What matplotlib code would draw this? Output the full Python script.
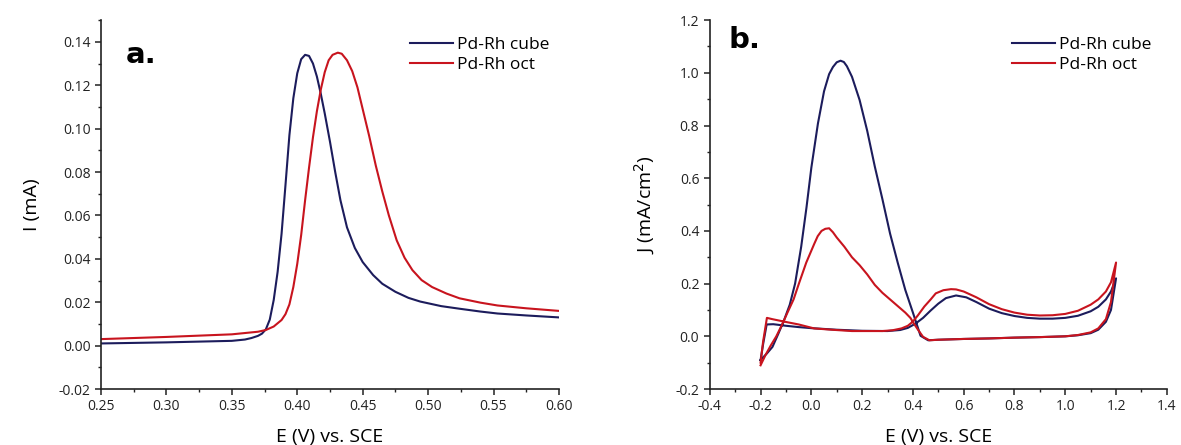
import matplotlib
matplotlib.use("Agg")
import matplotlib.pyplot as plt
from matplotlib.ticker import MultipleLocator, FormatStrFormatter

# ---------------- Panel a: linear sweep ----------------
E_a_cube = [0.25, 0.30, 0.35, 0.36, 0.365, 0.37, 0.373, 0.376, 0.379, 0.382, 0.385, 0.388,
            0.391, 0.394, 0.397, 0.400, 0.403, 0.406, 0.409, 0.412, 0.415, 0.418, 0.421,
            0.425, 0.429, 0.433, 0.438, 0.444, 0.450, 0.458, 0.465, 0.475, 0.485, 0.494,
            0.510, 0.524, 0.540, 0.553, 0.575, 0.600]
I_a_cube = [0.001, 0.0015, 0.0022, 0.0028, 0.0035, 0.0045, 0.0055, 0.0075, 0.012, 0.021, 0.034, 0.0515,
            0.074, 0.097, 0.114, 0.1255, 0.132, 0.134, 0.1335, 0.130, 0.124, 0.116, 0.107,
            0.094, 0.080, 0.067, 0.0545, 0.0450, 0.0385, 0.0325, 0.0285, 0.0248, 0.0220, 0.0203,
            0.0182, 0.0170, 0.0157, 0.0148, 0.0139, 0.013]

E_a_oct = [0.25, 0.30, 0.35, 0.36, 0.37, 0.376, 0.382, 0.388, 0.391, 0.394, 0.397, 0.400,
           0.403, 0.406, 0.409, 0.412, 0.415, 0.418, 0.421, 0.424, 0.427, 0.431, 0.434,
           0.438, 0.442, 0.446, 0.450, 0.455, 0.460, 0.465, 0.470, 0.476, 0.482, 0.488,
           0.495, 0.503, 0.514, 0.524, 0.540, 0.553, 0.575, 0.600]
I_a_oct = [0.003, 0.004, 0.0052, 0.0058, 0.0064, 0.0072, 0.0088, 0.0118, 0.0145, 0.019, 0.027, 0.0377,
           0.051, 0.067, 0.082, 0.096, 0.108, 0.118, 0.126, 0.1315, 0.134, 0.135, 0.1345,
           0.1315, 0.1265, 0.119, 0.109, 0.0965, 0.083, 0.071, 0.060, 0.0485, 0.0405, 0.0348,
           0.0302, 0.0270, 0.0240, 0.0218, 0.0198, 0.0185, 0.0172, 0.016]

# ---------------- Panel b: cyclic voltammograms ----------------
E_b_cube = [-0.20, -0.19, -0.176, -0.15, -0.10, -0.05, 0.00, 0.05, 0.10, 0.20, 0.30,
            0.35, 0.38, 0.41, 0.44, 0.47, 0.50, 0.53, 0.57, 0.61, 0.65, 0.70,
            0.75, 0.80, 0.85, 0.90, 0.95, 1.00, 1.05, 1.10, 1.13, 1.16, 1.18, 1.20,
            1.18, 1.16, 1.13, 1.10, 1.05, 1.00, 0.90, 0.80, 0.70, 0.60, 0.50, 0.46,
            0.43, 0.40, 0.37, 0.34, 0.31, 0.28, 0.25, 0.22, 0.19, 0.16, 0.14, 0.128, 0.115,
            0.10, 0.085, 0.07, 0.05, 0.026, 0.00, -0.019, -0.04, -0.064, -0.085, -0.108,
            -0.13, -0.153, -0.175, -0.20]
J_b_cube = [-0.09, -0.03, 0.045, 0.046, 0.040, 0.035, 0.031, 0.028, 0.025, 0.021, 0.020,
            0.024, 0.032, 0.048, 0.070, 0.098, 0.124, 0.145, 0.155, 0.148, 0.130, 0.105,
            0.088, 0.077, 0.070, 0.067, 0.067, 0.070, 0.078, 0.095, 0.112, 0.140, 0.170, 0.22,
            0.10, 0.055, 0.025, 0.012, 0.004, 0.000, -0.003, -0.005, -0.008, -0.010, -0.013, -0.015,
            0.002, 0.090, 0.176, 0.280, 0.390, 0.520, 0.644, 0.780, 0.897, 0.985, 1.025, 1.041, 1.046,
            1.040, 1.022, 0.995, 0.930, 0.808, 0.640, 0.490, 0.340, 0.200, 0.120, 0.060,
            0.010, -0.040, -0.065, -0.09]

E_b_oct = [-0.20, -0.19, -0.175, -0.153, -0.108, -0.05, 0.011, 0.08, 0.16, 0.22, 0.28,
           0.32, 0.355, 0.38, 0.40, 0.42, 0.445, 0.47, 0.49, 0.52, 0.55, 0.57, 0.60,
           0.65, 0.70, 0.75, 0.80, 0.85, 0.90, 0.95, 1.00, 1.05, 1.10, 1.13, 1.16, 1.18, 1.20,
           1.18, 1.16, 1.13, 1.10, 1.05, 1.00, 0.90, 0.80, 0.70, 0.60, 0.50, 0.465,
           0.44, 0.42, 0.407, 0.39, 0.37, 0.34, 0.31, 0.28, 0.25, 0.22, 0.19, 0.16,
           0.13, 0.10, 0.085, 0.07, 0.055, 0.04, 0.025, 0.011, -0.02, -0.049, -0.07, -0.094, -0.115,
           -0.138, -0.16, -0.18, -0.20]
J_b_oct = [-0.10, -0.02, 0.070, 0.065, 0.056, 0.045, 0.030, 0.025, 0.020, 0.020, 0.020,
           0.023, 0.030, 0.040, 0.056, 0.080, 0.113, 0.140, 0.163, 0.175, 0.179, 0.178, 0.170,
           0.148, 0.122, 0.103, 0.090, 0.082, 0.079, 0.080, 0.085, 0.097, 0.120, 0.140, 0.170, 0.205, 0.28,
           0.13, 0.065, 0.030, 0.015, 0.005, 0.000, -0.003, -0.005, -0.008, -0.010, -0.013, -0.015,
           -0.002, 0.025, 0.044, 0.070, 0.090, 0.115, 0.140, 0.165, 0.195, 0.235, 0.270, 0.300,
           0.340, 0.375, 0.395, 0.410, 0.408, 0.400, 0.380, 0.350, 0.280, 0.200, 0.140, 0.090, 0.045,
           0.000, -0.035, -0.070, -0.11]

legend_labels = ["Pd-Rh cube", "Pd-Rh oct"]
c_cube = "#1c1c5c"
c_oct = "#c8141e"

plt.rcParams['font.family'] = ['Open Sans', 'DejaVu Sans']

fig = plt.figure(figsize=(11.81, 4.45), dpi=100)
ax1 = fig.add_axes([0.0855, 0.1258, 0.3878, 0.829])
ax2 = fig.add_axes([0.601, 0.1258, 0.387, 0.829])

def style(ax):
    for s in ['top', 'right']:
        ax.spines[s].set_visible(False)
    for s in ['left', 'bottom']:
        ax.spines[s].set_linewidth(1.2)
        ax.spines[s].set_color('#222222')
    ax.tick_params(which='major', direction='out', length=4, width=1.1, labelsize=10,
                   pad=3.5, colors='#222222')
    ax.tick_params(which='minor', direction='out', length=2.5, width=1.0, colors='#222222')

def add_legend(ax, xanchor):
    ax.legend(loc='upper right', bbox_to_anchor=(xanchor, 0.955), frameon=False, fontsize=12.5,
              handlelength=2.5, handletextpad=0.25, labelspacing=0.25, borderaxespad=0.0,
              borderpad=0.0)

ax1.plot(E_a_cube, I_a_cube, color=c_cube, lw=1.5, label=legend_labels[0])
ax1.plot(E_a_oct, I_a_oct, color=c_oct, lw=1.5, label=legend_labels[1])
ax1.set_xlim(0.25, 0.60)
ax1.set_ylim(-0.02, 0.15)
ax1.set_yticks([-0.02, 0.00, 0.02, 0.04, 0.06, 0.08, 0.10, 0.12, 0.14])
ax1.set_xticks([0.25, 0.30, 0.35, 0.40, 0.45, 0.50, 0.55, 0.60])
ax1.xaxis.set_minor_locator(MultipleLocator(0.025))
ax1.yaxis.set_minor_locator(MultipleLocator(0.01))
ax1.xaxis.set_major_formatter(FormatStrFormatter('%.2f'))
ax1.yaxis.set_major_formatter(FormatStrFormatter('%.2f'))
style(ax1)
ax1.set_xlabel("E (V) vs. SCE", fontsize=14, labelpad=10)
ax1.set_ylabel("I (mA)", fontsize=14, labelpad=13)
ax1.text(0.055, 0.905, "a.", transform=ax1.transAxes, fontsize=21, fontweight='bold',
         family='DejaVu Sans', va='center', ha='left')
add_legend(ax1, 0.98)

ax2.plot(E_b_cube, J_b_cube, color=c_cube, lw=1.5, label=legend_labels[0])
ax2.plot(E_b_oct, J_b_oct, color=c_oct, lw=1.5, label=legend_labels[1])
ax2.set_xlim(-0.4, 1.4)
ax2.set_ylim(-0.2, 1.2)
ax2.set_xticks([-0.4, -0.2, 0.0, 0.2, 0.4, 0.6, 0.8, 1.0, 1.2, 1.4])
ax2.set_yticks([-0.2, 0.0, 0.2, 0.4, 0.6, 0.8, 1.0, 1.2])
ax2.xaxis.set_minor_locator(MultipleLocator(0.1))
ax2.yaxis.set_minor_locator(MultipleLocator(0.1))
ax2.xaxis.set_major_formatter(FormatStrFormatter('%.1f'))
ax2.yaxis.set_major_formatter(FormatStrFormatter('%.1f'))
style(ax2)
ax2.set_xlabel("E (V) vs. SCE", fontsize=14, labelpad=10)
ax2.set_ylabel("J (mA/cm$^2$)", fontsize=14, labelpad=13)
ax2.text(0.04, 0.945, "b.", transform=ax2.transAxes, fontsize=21, fontweight='bold',
         family='DejaVu Sans', va='center', ha='left')
add_legend(ax2, 0.967)

fig.savefig("out.png", dpi=100)
